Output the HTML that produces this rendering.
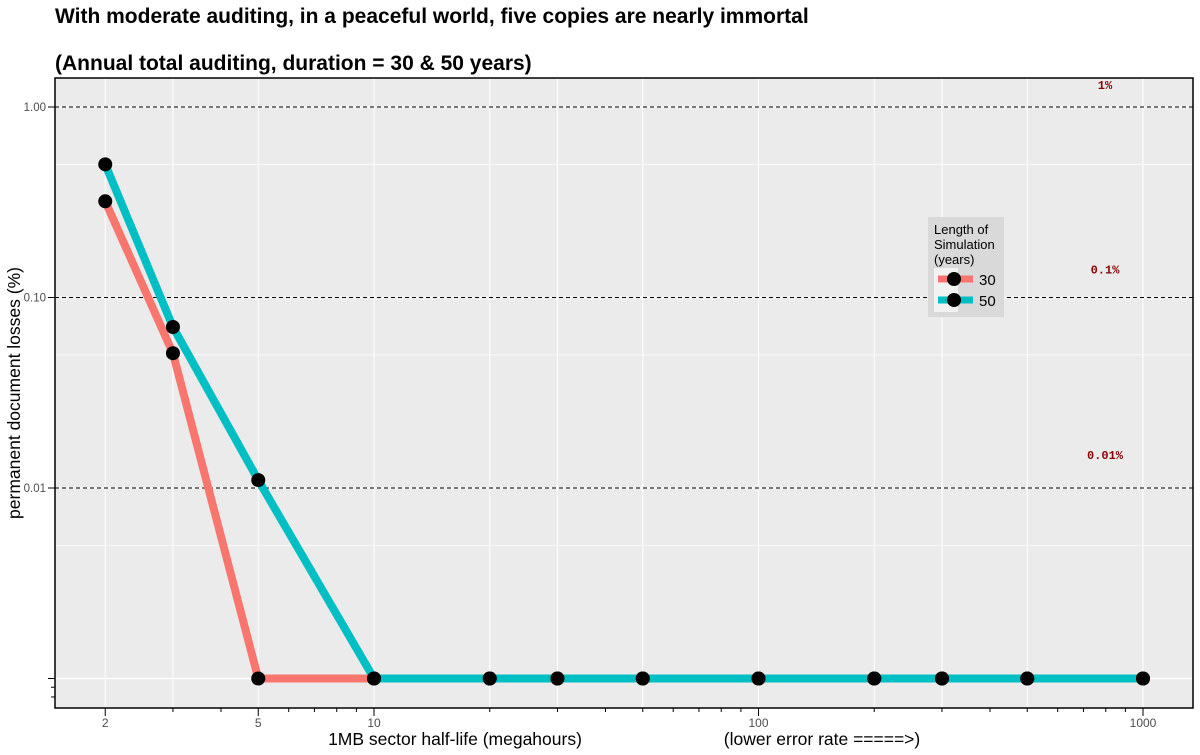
<!DOCTYPE html>
<html><head><meta charset="utf-8"><style>
body{margin:0;background:#fff;font-family:"Liberation Sans",sans-serif}
</style></head><body>
<svg id="c" width="1200" height="750" xmlns="http://www.w3.org/2000/svg">
<text x="55" y="23" font-size="21" font-weight="bold">With moderate auditing, in a peaceful world, five copies are nearly immortal</text>
<text x="55" y="70" font-size="21" font-weight="bold">(Annual total auditing, duration = 30 &amp; 50 years)</text>
<rect x="55" y="78" width="1138" height="630" fill="#ebebeb"/>
<g id="grid"></g><g id="marks"></g>
<rect x="55" y="78" width="1138" height="630" fill="none" stroke="#000" stroke-width="1.5"/>
<g id="axes"></g>
<text x="20" y="393" font-size="17.5" text-anchor="middle" transform="rotate(-90 20 393)">permanent document losses (%)</text>
<text x="455" y="745" font-size="17.5" text-anchor="middle">1MB sector half-life (megahours)</text>
<text x="822" y="745" font-size="17.5" text-anchor="middle">(lower error rate =====&gt;)</text>
<g>
<rect x="928" y="217" width="76" height="100" fill="#d9d9d9"/>
<text x="934" y="234" font-size="13">Length of</text>
<text x="934" y="249" font-size="13">Simulation</text>
<text x="934" y="264" font-size="13">(years)</text>
<rect x="934" y="268" width="24" height="44" fill="#f2f2f2"/>
<line x1="938" y1="279" x2="973" y2="279" stroke="#f8766d" stroke-width="7"/>
<circle cx="954" cy="279" r="7"/>
<text x="979" y="285" font-size="15">30</text>
<line x1="938" y1="300" x2="973" y2="300" stroke="#00bfc4" stroke-width="7"/>
<circle cx="954" cy="300" r="7"/>
<text x="979" y="306" font-size="15">50</text>
</g>
</svg>
<script>
const xVals=[2,3,5,10,20,30,50,100,200,300,500,1000];
const s30=[0.32,0.051,0.001,0.001,0.001,0.001,0.001,0.001,0.001,0.001,0.001,0.001];
const s50=[0.5,0.07,0.011,0.001,0.001,0.001,0.001,0.001,0.001,0.001,0.001,0.001];
const yTicks=[1,0.1,0.01,0.001];
const yTickLabels=["1.00","0.10","0.01",""];
const xTicks=[2,5,10,100,1000];
const refLines=[1,0.1,0.01];
const refLabels=["1%","0.1%","0.01%"];
const NS="http://www.w3.org/2000/svg";
const X=v=>374+384.5*Math.log10(v/10);
const Y=v=>107-190.5*Math.log10(v);
const labelOff=[-18,-24,-29];
function el(t,a,p){const e=document.createElementNS(NS,t);for(const k in a)e.setAttribute(k,a[k]);document.getElementById(p).appendChild(e);return e;}
[0.5,0.05,0.005,...yTicks].forEach(v=>{const g=el('line',{x1:55,x2:1193,y1:Y(v),y2:Y(v),stroke:'#fff','stroke-width':yTicks.includes(v)?1.2:0.7},'grid');

});
xVals.forEach(v=>{const g=el('line',{x1:X(v),x2:X(v),y1:78,y2:708,stroke:'#fff','stroke-width':1},'grid');

});
refLines.forEach((v,i)=>{const l=el('line',{x1:55,x2:1193,y1:Y(v),y2:Y(v),stroke:'#000','stroke-dasharray':'4,3','stroke-width':1},'grid');


const t=el('text',{x:1105,y:Y(v)+labelOff[i],'font-family':'Liberation Mono,monospace','font-size':12,'font-weight':'bold',fill:'#8b0000','text-anchor':'middle'},'grid');
t.textContent=refLabels[i];

});
[[s30,'#f8766d','series-30'],[s50,'#00bfc4','series-50']].forEach(([s,c,n])=>{
const p=el('polyline',{points:xVals.map((x,i)=>X(x)+','+Y(s[i])).join(' '),fill:'none',stroke:c,'stroke-width':8,'stroke-linejoin':'round'},'marks');

});
[s30,s50].forEach(s=>xVals.forEach((x,i)=>{const c=el('circle',{cx:X(x),cy:Y(s[i]),r:7,fill:'#000'},'marks');

}));
yTicks.forEach((v,i)=>{el('line',{x1:48,x2:55,y1:Y(v),y2:Y(v),stroke:'#000'},'axes');
const t=el('text',{x:46,y:Y(v)+4,'font-size':11.5,fill:'#4d4d4d','text-anchor':'end'},'axes');t.textContent=yTickLabels[i];

});
[0.0009,0.0008].forEach(v=>el('line',{x1:51,x2:55,y1:Y(v),y2:Y(v),stroke:'#000'},'axes'));
xTicks.forEach(v=>{el('line',{x1:X(v),x2:X(v),y1:708,y2:716,stroke:'#000'},'axes');
const t=el('text',{x:X(v),y:727,'font-size':12,fill:'#4d4d4d','text-anchor':'middle'},'axes');t.textContent=v;

});
[3,4,6,7,8,9,20,30,40,50,60,70,80,90,200,300,400,500,600,700,800,900].forEach(v=>el('line',{x1:X(v),x2:X(v),y1:708,y2:712,stroke:'#000'},'axes'));
</script>
</body></html>
